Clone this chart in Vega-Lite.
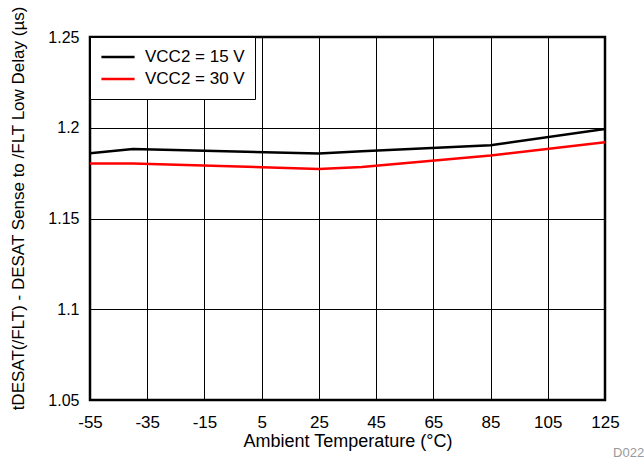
{
  "$schema": "https://vega.github.io/schema/vega-lite/v6.json",
  "autosize": {"type": "none"},
  "width": 515,
  "height": 363,
  "padding": {"left": 90, "top": 37, "right": 39, "bottom": 61},
  "background": "white",
  "config": {
    "font": "Liberation Sans",
    "view": {"stroke": "black", "strokeWidth": 2.5},
    "legend": {
      "strokeColor": "black",
      "fillColor": "white",
      "padding": 10
    },
    "axis": {
      "grid": true,
      "gridColor": "black",
      "gridOpacity": 1,
      "gridWidth": 1,
      "domain": false,
      "ticks": false,
      "labelFont": "Liberation Sans",
      "labelFontSize": 16,
      "labelColor": "black",
      "titleFont": "Liberation Sans",
      "titleFontSize": 17,
      "titleFontWeight": "normal",
      "titleColor": "black"
    }
  },
  "title": {
    "text": "D022",
    "orient": "bottom",
    "anchor": "end",
    "color": "#999999",
    "fontSize": 13,
    "fontWeight": "normal",
    "font": "Liberation Sans",
    "offset": 1,
    "dx": 25,
    "dy": -4
  },
  "data": {
    "values": [
      {"t": -55, "v": 1.186, "s": "VCC2 = 15 V"},
      {"t": -40, "v": 1.1883, "s": "VCC2 = 15 V"},
      {"t": 25, "v": 1.1858, "s": "VCC2 = 15 V"},
      {"t": 40, "v": 1.1871, "s": "VCC2 = 15 V"},
      {"t": 85, "v": 1.1904, "s": "VCC2 = 15 V"},
      {"t": 125, "v": 1.1993, "s": "VCC2 = 15 V"},
      {"t": -55, "v": 1.1803, "s": "VCC2 = 30 V"},
      {"t": -40, "v": 1.1803, "s": "VCC2 = 30 V"},
      {"t": 25, "v": 1.1773, "s": "VCC2 = 30 V"},
      {"t": 40, "v": 1.1784, "s": "VCC2 = 30 V"},
      {"t": 85, "v": 1.1847, "s": "VCC2 = 30 V"},
      {"t": 125, "v": 1.192, "s": "VCC2 = 30 V"}
    ]
  },
  "mark": {"type": "line", "strokeWidth": 2.5, "clip": true},
  "encoding": {
    "x": {
      "field": "t",
      "type": "quantitative",
      "scale": {"domain": [-55, 125], "nice": false, "zero": false},
      "axis": {
        "values": [-55, -35, -15, 5, 25, 45, 65, 85, 105, 125],
        "labelExpr": "replace(datum.label, '\u2212', '-')",
        "labelFlush": false,
        "labelFontSize": 17,
        "title": "Ambient Temperature (°C)",
        "titleFontSize": 18,
        "labelPadding": 14,
        "titlePadding": 2
      }
    },
    "y": {
      "field": "v",
      "type": "quantitative",
      "scale": {"domain": [1.05, 1.25], "nice": false, "zero": false},
      "axis": {
        "values": [1.05, 1.1, 1.15, 1.2, 1.25],
        "format": ".2~f",
        "labelFlush": false,
        "title": "tDESAT(/FLT) - DESAT Sense to /FLT Low Delay (µs)",
        "titleY": 171,
        "labelPadding": 11,
        "titlePadding": 20
      }
    },
    "color": {
      "field": "s",
      "type": "nominal",
      "scale": {"domain": ["VCC2 = 15 V", "VCC2 = 30 V"], "range": ["black", "#ff0000"]},
      "legend": {
        "title": null,
        "orient": "top-left",
        "offset": 0,
        "rowPadding": 2,
        "clipHeight": 20,
        "symbolType": "stroke",
        "symbolStrokeWidth": 2.5,
        "symbolSize": 1100,
        "labelFontSize": 17,
        "labelFont": "Liberation Sans",
        "labelColor": "black",
        "labelOffset": 9
      }
    }
  }
}
